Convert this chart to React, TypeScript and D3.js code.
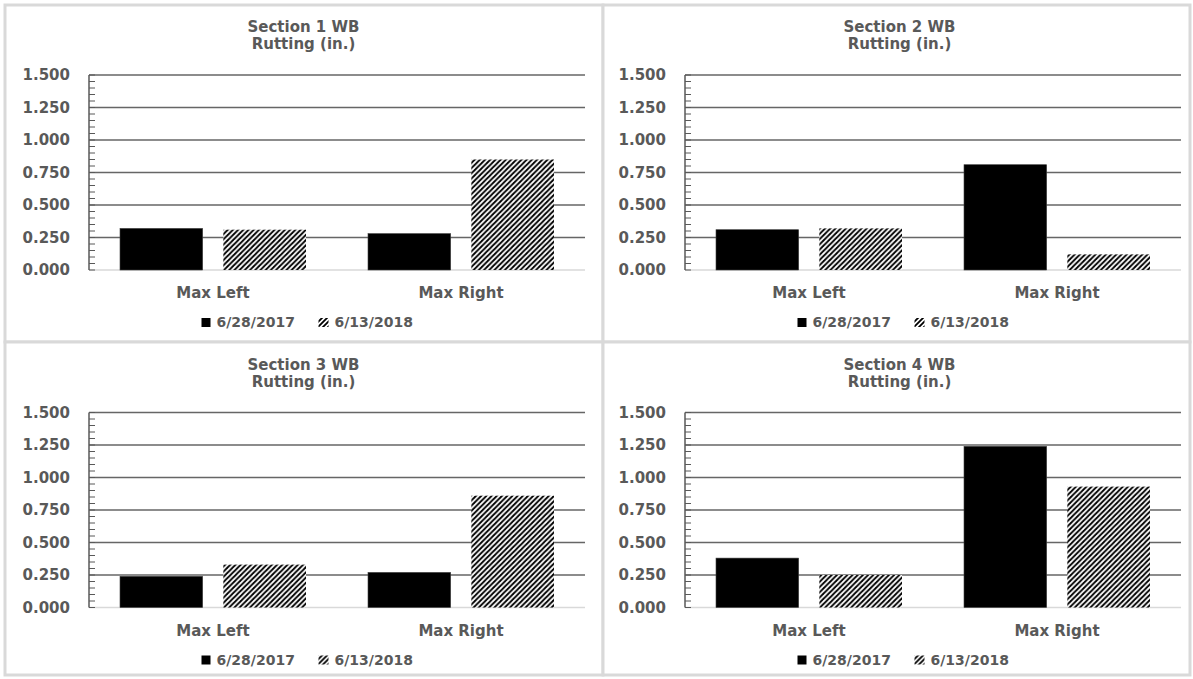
import React from "react";
import * as d3 from "d3";

// Rutting measurements per section, in inches
const categories = ["Max Left", "Max Right"];
const seriesNames = ["6/28/2017", "6/13/2018"];
const sectionTitles = ["Section 1 WB", "Section 2 WB", "Section 3 WB", "Section 4 WB"];
const subtitle = "Rutting (in.)";

const section1_2017 = [0.32, 0.28];
const section1_2018 = [0.31, 0.85];
const section2_2017 = [0.31, 0.81];
const section2_2018 = [0.32, 0.12];
const section3_2017 = [0.24, 0.27];
const section3_2018 = [0.33, 0.86];
const section4_2017 = [0.38, 1.24];
const section4_2018 = [0.25, 0.93];

const yTicks = [0, 0.25, 0.5, 0.75, 1.0, 1.25, 1.5];
const yMax = 1.5;
const minorStep = 0.05;

const sectionData = [
  [section1_2017, section1_2018],
  [section2_2017, section2_2018],
  [section3_2017, section3_2018],
  [section4_2017, section4_2018],
];

const W = 1193;
const H = 679;
const FONT = "'DejaVu Sans', sans-serif";
const TEXT = "#595959";

// panel placement (offset of each chart, and its frame in local coordinates)
const offsets = [
  { dx: 0, dy: 0 },
  { dx: 596, dy: 0 },
  { dx: 0, dy: 337.5 },
  { dx: 596, dy: 337.5 },
];
const frames = [
  { x: 5, y: 5, w: 598, h: 337 },
  { x: 7, y: 5, w: 587, h: 337 },
  { x: 5, y: 4.5, w: 598, h: 333 },
  { x: 7, y: 4.5, w: 587, h: 333 },
];
const plot = { left: 89, right: 585, top: 75, bottom: 270 };
const centerX = 303.5;

const fmt = d3.format(".3f");

function Panel({ idx }: { idx: number }) {
  const { dx, dy } = offsets[idx];
  const frame = frames[idx];
  const values = sectionData[idx];
  const y = d3.scaleLinear().domain([0, yMax]).range([plot.bottom, plot.top]);
  const x0 = d3.scaleBand<string>().domain(categories).range([plot.left, plot.right]).padding(0);
  const x1 = d3
    .scaleBand<string>()
    .domain(seriesNames)
    .range([0, x0.bandwidth()])
    .paddingInner(0.2)
    .paddingOuter(0.3);
  const minors = d3.range(0, yMax + 1e-9, minorStep);

  const legendY = 327;
  const lx = centerX + 6;

  return (
    <g transform={`translate(${dx},${dy})`}>
      <rect x={frame.x} y={frame.y} width={frame.w} height={frame.h} fill="#fff" stroke="#d9d9d9" strokeWidth={3} />
      <text x={centerX} y={32} textAnchor="middle" fontFamily={FONT} fontWeight="bold" fontSize={15} fill={TEXT}>
        {sectionTitles[idx]}
      </text>
      <text x={centerX} y={49} textAnchor="middle" fontFamily={FONT} fontWeight="bold" fontSize={15} fill={TEXT}>
        {subtitle}
      </text>

      {/* gridlines */}
      {yTicks.filter((t) => t > 0).map((t) => (
        <line key={t} x1={plot.left} x2={plot.right} y1={y(t)} y2={y(t)} stroke="#666" strokeWidth={1.5} />
      ))}
      <line x1={plot.left} x2={plot.right} y1={y(0)} y2={y(0)} stroke="#d9d9d9" strokeWidth={1.5} />

      {/* y axis with minor ticks */}
      <line x1={plot.left} x2={plot.left} y1={y(yMax)} y2={y(0)} stroke="#595959" strokeWidth={1.5} />
      {minors.map((m, i) => (
        <line key={i} x1={plot.left} x2={plot.left + 6} y1={y(m)} y2={y(m)} stroke="#595959" strokeWidth={1} />
      ))}
      {yTicks.map((t) => (
        <text key={t} x={plot.left - 19} y={y(t)} dy="0.36em" textAnchor="end" fontFamily={FONT} fontWeight="bold" fontSize={15} fill={TEXT}>
          {fmt(t)}
        </text>
      ))}

      {/* bars */}
      {categories.map((c, ci) =>
        seriesNames.map((s, si) => {
          const v = values[si][ci];
          const bx = (x0(c) as number) + (x1(s) as number);
          return (
            <rect
              key={c + s}
              x={bx}
              y={y(v)}
              width={x1.bandwidth()}
              height={y(0) - y(v)}
              fill={si === 0 ? "#000" : "url(#hatch)"}
              stroke={si === 0 ? "#404040" : "none"}
              strokeWidth={0.6}
            />
          );
        })
      )}

      {/* category labels */}
      {categories.map((c) => (
        <text key={c} x={(x0(c) as number) + x0.bandwidth() / 2} y={298} textAnchor="middle" fontFamily={FONT} fontWeight="bold" fontSize={15} fill={TEXT}>
          {c}
        </text>
      ))}

      {/* legend */}
      <rect x={lx - 108} y={legendY - 9} width={9} height={9} fill="#000" />
      <text x={lx - 93} y={legendY} fontFamily={FONT} fontWeight="bold" fontSize={14} fill={TEXT}>
        {seriesNames[0]}
      </text>
      <rect x={lx + 9} y={legendY - 9} width={10} height={9} fill="url(#hatchLegend)" />
      <text x={lx + 25} y={legendY} fontFamily={FONT} fontWeight="bold" fontSize={14} fill={TEXT}>
        {seriesNames[1]}
      </text>
    </g>
  );
}

export default function App() {
  const p = 5.2;
  return (
    <svg width={W} height={H} style={{ position: "absolute", left: 0, top: 0, background: "#fff" }}>
      <defs>
        <pattern id="hatch" patternUnits="userSpaceOnUse" width={p} height={p}>
          <rect width={p} height={p} fill="#fff" />
          <path
            d={`M${-p / 2},${p / 2} L${p / 2},${-p / 2} M0,${p} L${p},0 M${p / 2},${p * 1.5} L${p * 1.5},${p / 2}`}
            stroke="#000"
            strokeWidth={1.9}
          />
        </pattern>
        <pattern id="hatchLegend" patternUnits="userSpaceOnUse" width={5} height={5}>
          <rect width={5} height={5} fill="#fff" />
          <path d="M-2.5,2.5 L2.5,-2.5 M0,5 L5,0 M2.5,7.5 L7.5,2.5" stroke="#000" strokeWidth={1.8} />
        </pattern>
      </defs>
      <rect width={W} height={H} fill="#fff" />
      {sectionTitles.map((_, i) => (
        <Panel key={i} idx={i} />
      ))}
    </svg>
  );
}
